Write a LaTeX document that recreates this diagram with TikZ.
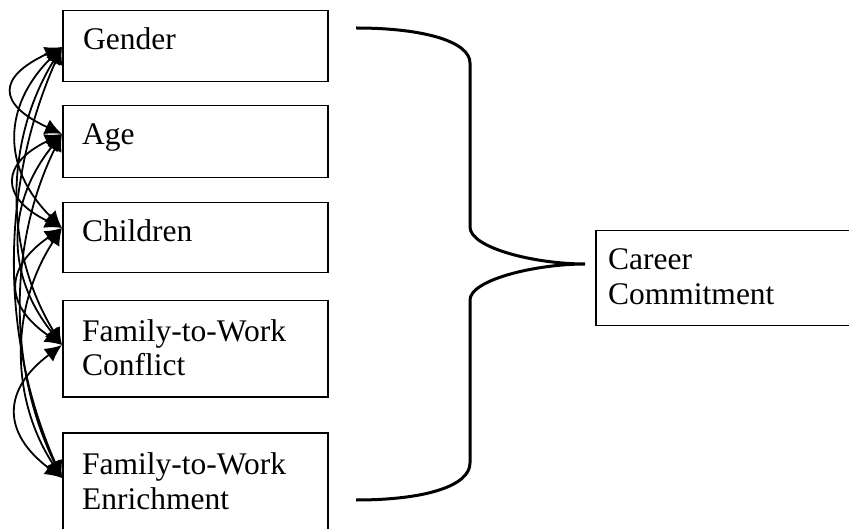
\documentclass[tikz,border=0pt]{standalone}
\usepackage{fontspec}
\setmainfont{Liberation Serif}
\usetikzlibrary{arrows.meta,calc}
\begin{document}
\begin{tikzpicture}[x=1pt,y=-1pt,
  box/.style={draw,line width=1.5pt,minimum width=265pt,anchor=north west,inner sep=0pt},
  txt/.style={anchor=base west,align=left,inner sep=0pt,font=\fontsize{31.5}{35}\selectfont},
  corr/.style={line width=1.8pt,{Latex[length=17pt,width=16pt]}-{Latex[length=17pt,width=16pt]}},
  brace/.style={line width=3pt}]
\useasboundingbox (0,0) rectangle (849,529);
% boxes
\node[box,minimum height=71pt] (gender) at (62,10) {};
\node[box,minimum height=72pt] (age) at (62,105) {};
\node[box,minimum height=70pt] (children) at (62,202) {};
\node[box,minimum height=96pt] (conflict) at (62,300) {};
\node[box,minimum height=110pt] (enrich) at (62,432) {};
\node[box,minimum width=300pt,minimum height=95pt] (career) at (595,230) {};
% texts
\node[txt] (tgender) at (83,50) {Gender};
\node[txt] (tage) at (82,145) {Age};
\node[txt] (tchildren) at (82,242) {Children};
\node[txt] (tconflict) at (82,376) {Family-to-Work\\Conflict};
\node[txt] (tenrich) at (82,509) {Family-to-Work\\Enrichment};
\node[txt] (tcareer) at (608,305) {Career\\Commitment};
% arrow tips
\coordinate (g) at (62,47);
\coordinate (a) at (62,134);
\coordinate (c) at (62,228);
\coordinate (f) at (62,345);
\coordinate (e) at (62,478);
% correlations
\draw[corr] (g) .. controls +(-65,30) and +(-65,-30) .. (a);
\draw[corr] (g) .. controls +(-60,60) and +(-60,-60) .. (c);
\draw[corr] (g) .. controls +(-58,95) and +(-58,-95) .. (f);
\draw[corr] (g) .. controls +(-62,140) and +(-62,-140) .. (e);
\draw[corr] (a) .. controls +(-62,30) and +(-62,-30) .. (c);
\draw[corr] (a) .. controls +(-56,70) and +(-56,-70) .. (f);
\draw[corr] (a) .. controls +(-54,110) and +(-54,-110) .. (e);
\draw[corr] (c) .. controls +(-58,40) and +(-58,-40) .. (f);
\draw[corr] (c) .. controls +(-52,80) and +(-52,-80) .. (e);
\draw[corr] (f) .. controls +(-60,45) and +(-60,-45) .. (e);
% brace
\coordinate (btop) at (356,28);
\coordinate (bbot) at (356,500);
\coordinate (btip) at (585,264);
\draw[brace] (btop) .. controls (425,28) and (470,42) .. (470,63)
  -- (470,227) .. controls (470,248) and (535,264) .. (btip)
  .. controls (535,264) and (470,280) .. (470,300)
  -- (470,463) .. controls (470,486) and (425,500) .. (bbot);
\end{tikzpicture}
\end{document}
